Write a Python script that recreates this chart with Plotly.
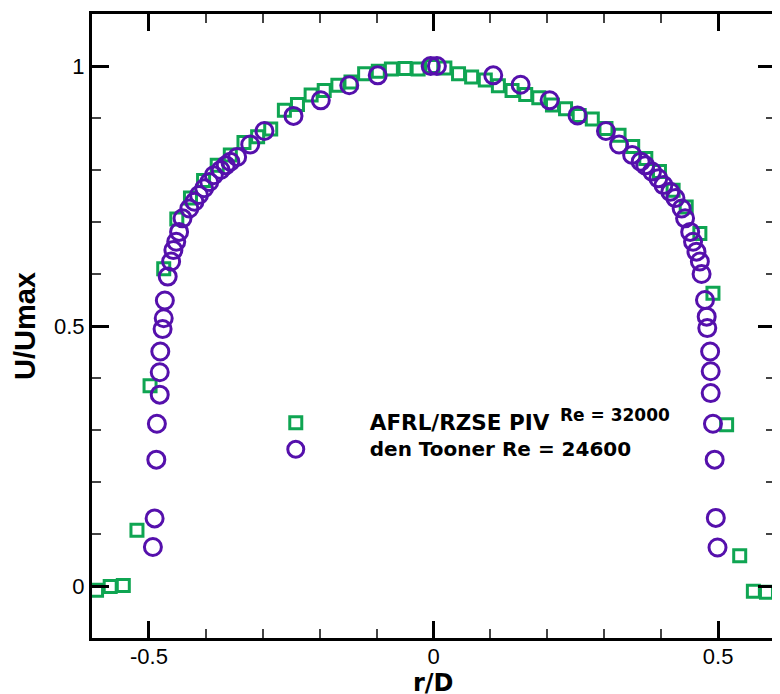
import plotly.graph_objects as go

# AFRL/RZSE PIV, Re = 32000 (green squares)
piv_r = [-0.592, -0.568, -0.545, -0.521, -0.498, -0.474, -0.451, -0.427, -0.404, -0.380,
         -0.357, -0.333, -0.309, -0.286, -0.262, -0.239, -0.215, -0.192, -0.168, -0.145,
         -0.121, -0.097, -0.074, -0.050, -0.027, -0.003, 0.020, 0.044, 0.067, 0.091,
         0.114, 0.138, 0.162, 0.185, 0.209, 0.232, 0.256, 0.279, 0.303, 0.326,
         0.350, 0.373, 0.397, 0.421, 0.444, 0.468, 0.491, 0.515, 0.538, 0.562, 0.585]
piv_u = [-0.008, -0.001, 0.001, 0.107, 0.385, 0.610, 0.706, 0.746, 0.780, 0.809,
         0.829, 0.853, 0.864, 0.879, 0.915, 0.926, 0.944, 0.953, 0.963, 0.969,
         0.985, 0.990, 0.994, 0.995, 0.994, 0.999, 0.996, 0.985, 0.979, 0.973,
         0.962, 0.953, 0.945, 0.939, 0.925, 0.918, 0.905, 0.898, 0.880, 0.867,
         0.845, 0.822, 0.797, 0.761, 0.729, 0.678, 0.563, 0.310, 0.058, -0.010, -0.012]

# den Tooner, Re = 24600 (purple circles)
dt_r = [-0.493, -0.490, -0.487, -0.486, -0.481, -0.481, -0.480, -0.476, -0.474, -0.472,
        -0.467, -0.461, -0.457, -0.452, -0.447, -0.441, -0.429, -0.420, -0.412, -0.403,
        -0.394, -0.386, -0.374, -0.365, -0.357, -0.345, -0.322, -0.297, -0.246, -0.198,
        -0.148, -0.098, -0.005, 0.006,
        0.105, 0.153, 0.204, 0.253, 0.303, 0.326, 0.349, 0.364, 0.372, 0.384,
        0.395, 0.404, 0.416, 0.425, 0.436, 0.442, 0.451, 0.456, 0.462, 0.468,
        0.471, 0.477, 0.480, 0.481, 0.486, 0.487, 0.487, 0.491, 0.494, 0.496, 0.499]
dt_u = [0.075, 0.130, 0.243, 0.312, 0.368, 0.411, 0.451, 0.494, 0.515, 0.549,
        0.595, 0.624, 0.646, 0.662, 0.681, 0.707, 0.726, 0.739, 0.752, 0.765,
        0.777, 0.790, 0.800, 0.809, 0.816, 0.825, 0.849, 0.875, 0.904, 0.934,
        0.963, 0.982, 1.000, 1.000,
        0.982, 0.964, 0.934, 0.905, 0.875, 0.849, 0.829, 0.816, 0.809, 0.797,
        0.784, 0.771, 0.758, 0.746, 0.726, 0.707, 0.681, 0.662, 0.643, 0.624,
        0.600, 0.550, 0.518, 0.496, 0.451, 0.413, 0.371, 0.312, 0.243, 0.131, 0.074]

x_tickvals = [-0.5, 0, 0.5]
x_ticktext = ["-0.5", "0", "0.5"]
y_tickvals = [0, 0.5, 1]
y_ticktext = ["0", "0.5", "1"]

GREEN = "#0FA552"
PURPLE = "#5510AC"
BOLD_WIDE = "DejaVu Sans"
ARIAL = "Liberation Sans, Arial, sans-serif"

fig = go.Figure()
fig.add_trace(go.Scatter(
    x=piv_r, y=piv_u, mode="markers",
    name="<span style='font-size:21.5px'>AFRL/RZSE PIV</span>",
    marker=dict(symbol="square-open", size=12, color=GREEN, line=dict(width=3, color=GREEN)),
))
fig.add_trace(go.Scatter(
    x=dt_r, y=dt_u, mode="markers",
    name="<span style='font-size:20px'>den Tooner Re = 24600</span>",
    marker=dict(symbol="circle-open", size=17, color=PURPLE, line=dict(width=3, color=PURPLE)),
))

axis_common = dict(
    showline=True, linewidth=3, linecolor="black", mirror="allticks",
    ticks="inside", ticklen=17, tickwidth=3, tickcolor="black",
    showgrid=False, zeroline=False, automargin=False,
    tickfont=dict(family=ARIAL, size=22, color="black"),
    minor=dict(dtick=0.1, ticks="inside", ticklen=9, tickwidth=2, tickcolor="#444", showgrid=False),
)

fig.update_xaxes(
    range=[-0.6, 0.6], tickmode="array", tickvals=x_tickvals, ticktext=x_ticktext,
    ticklabelstandoff=-3, **axis_common,
)
fig.update_yaxes(
    range=[-0.1, 1.1], tickmode="array", tickvals=y_tickvals, ticktext=y_ticktext,
    ticklabelstandoff=0, **axis_common,
)

# page body has an 8px margin; figure sized to fit the 780x694 window
fig.update_layout(
    width=772, height=686,
    margin=dict(l=84, r=5, t=6, b=56, autoexpand=False),
    paper_bgcolor="white", plot_bgcolor="white",
    showlegend=True,
    legend=dict(
        x=0.190, y=0.374, xanchor="left", yanchor="top",
        bgcolor="rgba(0,0,0,0)", borderwidth=0,
        font=dict(family=BOLD_WIDE, size=18, color="black", weight="bold"),
        itemwidth=138, tracegroupgap=0,
    ),
    annotations=[
        dict(xref="paper", yref="paper", x=0.683, y=0.357, xanchor="left", yanchor="middle",
             text="Re = 32000", showarrow=False,
             font=dict(family=BOLD_WIDE, size=17, color="black", weight="bold")),
        dict(xref="paper", yref="paper", x=0.5, y=-0.072, xanchor="center", yanchor="middle",
             text="r/D", showarrow=False,
             font=dict(family=BOLD_WIDE, size=24, color="black", weight="bold")),
        dict(xref="paper", yref="paper", x=-0.098, y=0.5, xanchor="center", yanchor="middle",
             text="U/Umax", showarrow=False, textangle=-90,
             font=dict(family=ARIAL, size=29, color="black", weight="bold")),
    ],
)

fig.write_html("out.html")
